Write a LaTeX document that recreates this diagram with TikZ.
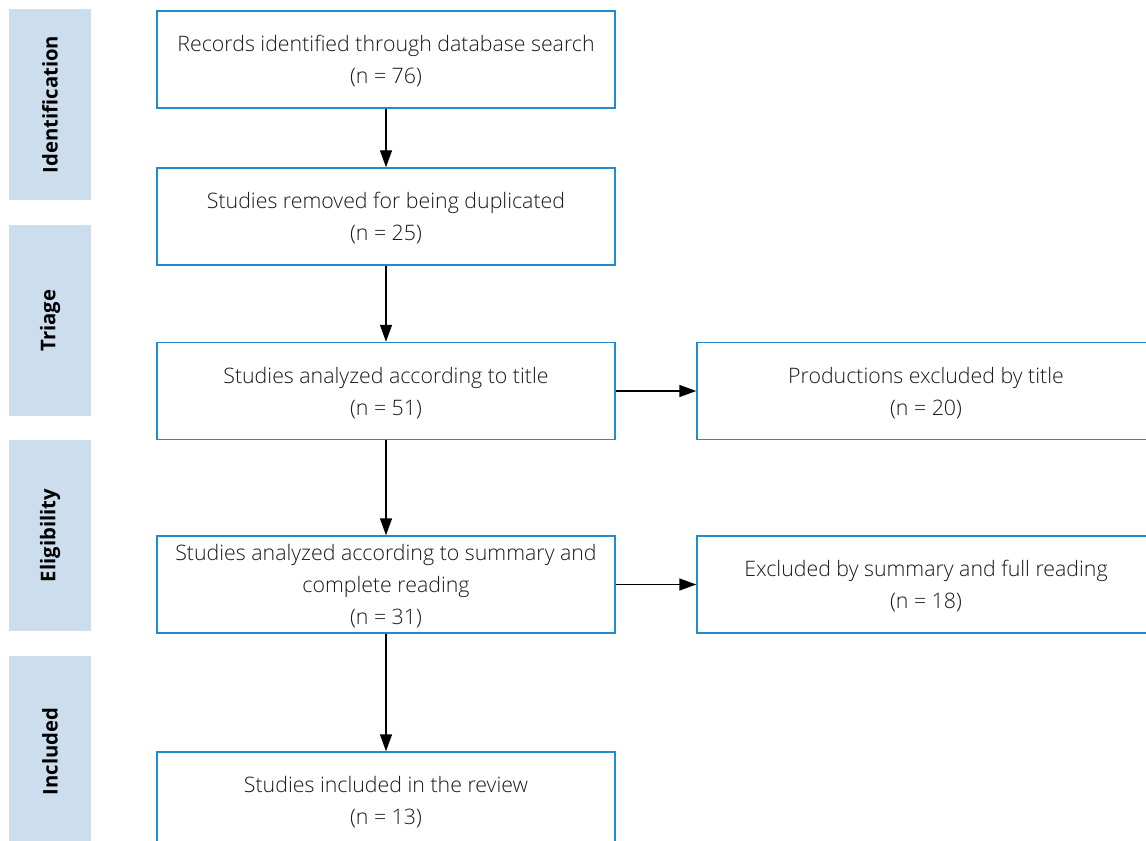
\documentclass[tikz,border=0pt]{standalone}
\usepackage{fontspec}
\setmainfont{Open Sans}[UprightFont=* Light, BoldFont=* Bold]
\usepackage{tikz}
\usetikzlibrary{arrows.meta, positioning}
\usepackage{xcolor}
\definecolor{boxblue}{RGB}{30,140,205}
\definecolor{bandblue}{RGB}{204,221,237}

\begin{document}
\begin{tikzpicture}[x=0.75pt, y=-0.75pt,
    stage/.style={draw=boxblue, line width=1.1pt, fill=white, minimum width=343.5pt, minimum height=72.75pt,
        align=center, inner sep=0pt, text=black!90, font=\fontsize{16pt}{24pt}\selectfont, text depth=-4pt},
    band/.style={fill=bandblue, rotate=90, minimum width=143.25pt, minimum height=61.5pt, inner sep=0pt,
        font=\bfseries\fontsize{15.2pt}{16pt}\selectfont},
    flow/.style={-{Triangle[length=12.75pt, width=9pt]}, line width=1.1pt}]
    \useasboundingbox (0, 0) rectangle (1146, 841);

    % phases on the left
    \node[band] (ident) at (50, 104.5) {Identification};
    \node[band] (triage) at (50, 320.5) {Triage};
    \node[band] (elig) at (50, 535.5) {Eligibility};
    \node[band] (incl) at (50, 751.5) {Included};

    % main column
    \node[stage] (rec) at (386, 59.5) {Records identified through database search\\(n = 76)};
    \node[stage] (dup) at (386, 216.5) {Studies removed for being duplicated\\(n = 25)};
    \node[stage] (anl) at (386, 391) {Studies analyzed according to title\\(n = 51)};
    \node[stage] (summ) at (386, 584.5) {Studies analyzed according to summary and\\complete reading\\(n = 31)};
    \node[stage] (fin) at (386, 800.5) {Studies included in the review\\(n = 13)};

    % exclusions
    \node[stage] (extitle) at (926, 391) {Productions excluded by title\\(n = 20)};
    \node[stage] (exread) at (926, 584.5) {Excluded by summary and full reading\\(n = 18)};

    % arrows
    \draw[flow] (rec) -- (dup);
    \draw[flow] (dup) -- (anl);
    \draw[flow] (anl) -- (summ);
    \draw[flow] (summ) -- (fin);
    \draw[flow] (anl) -- (extitle);
    \draw[flow] (summ) -- (exread);
\end{tikzpicture}
\end{document}
